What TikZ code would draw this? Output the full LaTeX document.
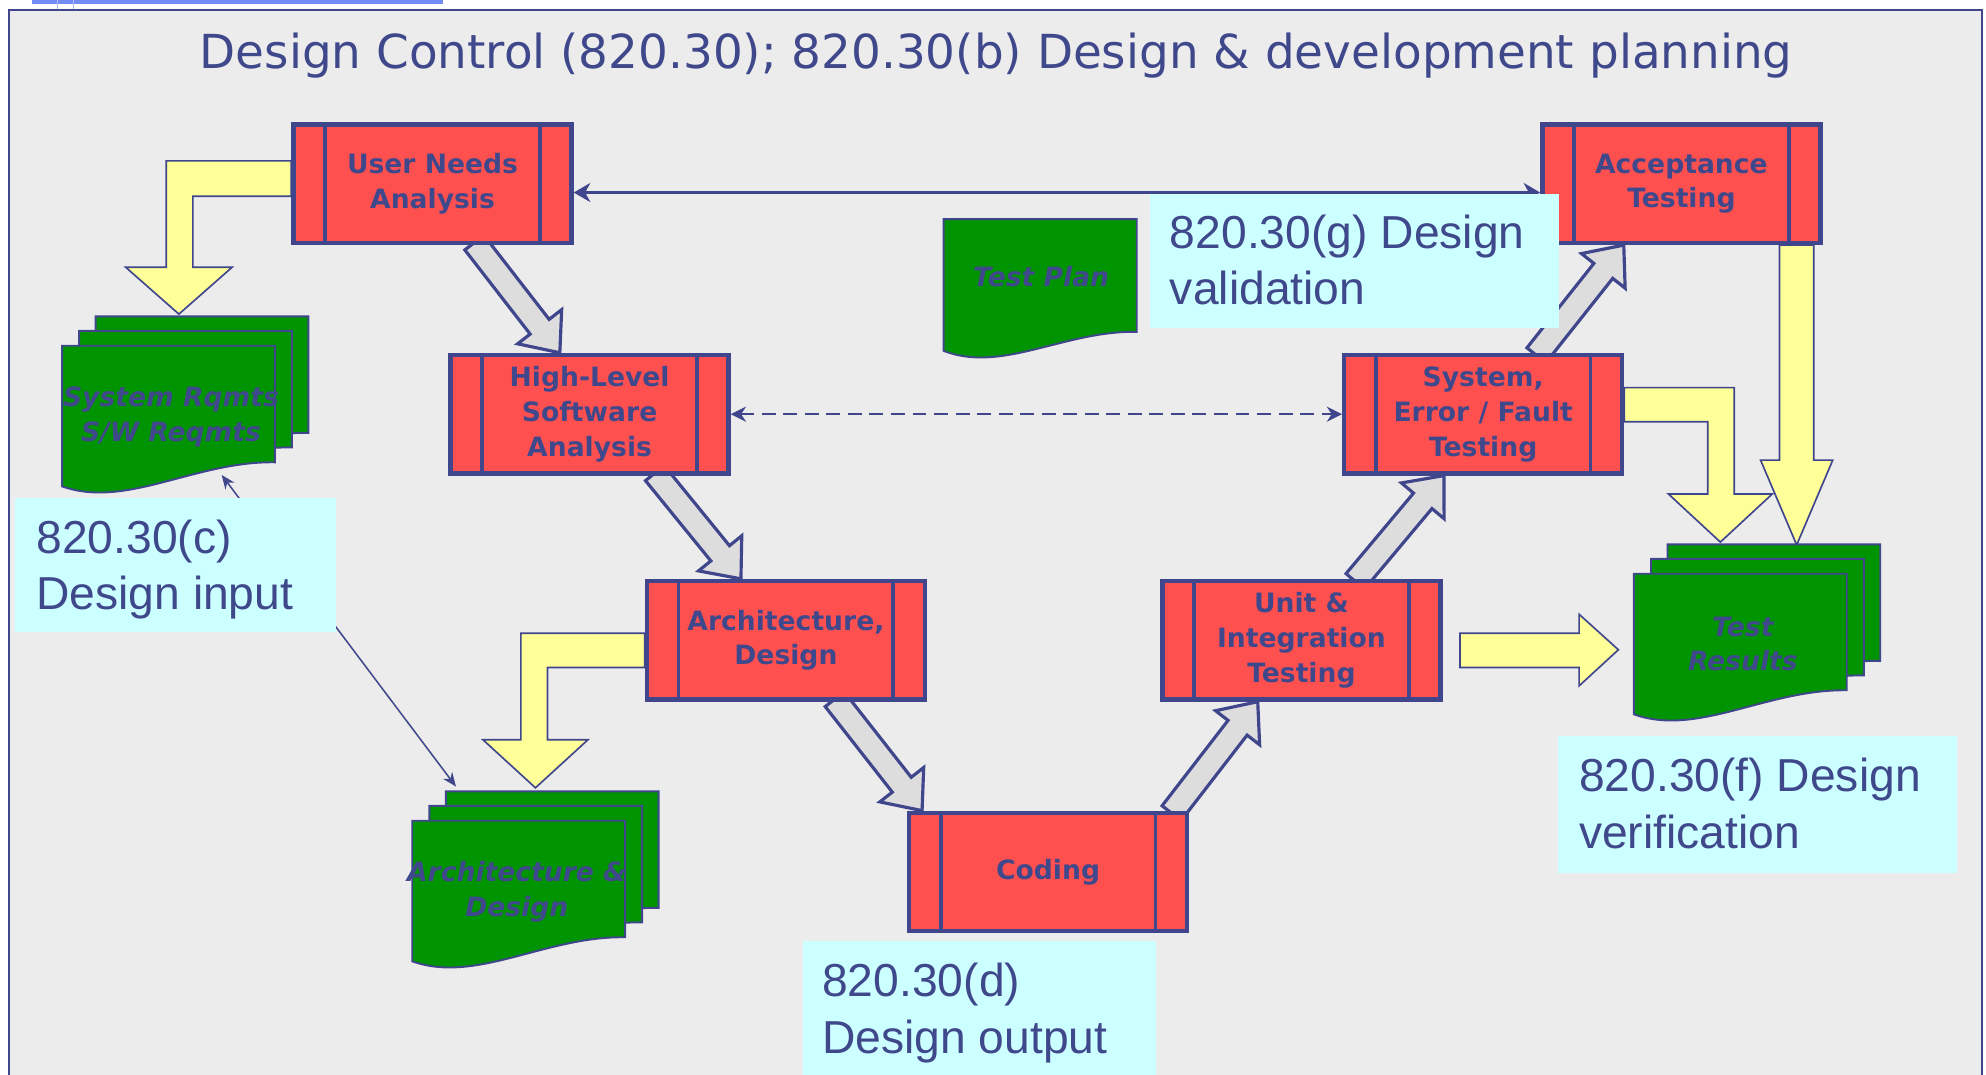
\documentclass[tikz,border=0pt]{standalone}
\usepackage{fontspec}
\setmainfont{DejaVu Sans}
\newfontfamily\helv{Liberation Sans}
\usepackage{tikz}
\usetikzlibrary{arrows.meta,calc}

\definecolor{frameblue}{RGB}{64,70,140}
\definecolor{txtblue}{RGB}{64,72,140}
\definecolor{boxred}{RGB}{255,80,80}
\definecolor{docgreen}{RGB}{0,148,0}
\definecolor{yelfill}{RGB}{255,255,153}
\definecolor{arrgray}{RGB}{221,221,221}
\definecolor{infocyan}{RGB}{204,255,255}
\definecolor{panelgray}{RGB}{236,236,236}
\definecolor{barblue}{RGB}{115,140,245}

\pgfdeclarelayer{back}
\pgfdeclarelayer{front}
\pgfsetlayers{back,main,front}

% x, top, width, left height, right height
\newcommand{\docpage}[5]{%
  \draw[docpg] (#1,{-(#2)}) -- ({#1+#3},{-(#2)}) -- ({#1+#3},{-(#2+#5)})
    .. controls ({#1+0.625*#3},{-(#2+#5-1)}) and ({#1+0.3*#3},{-(#2+#4+18)}) .. (#1,{-(#2+#4)}) -- cycle;}
\newcommand{\docstack}[2]{%
  \docpage{#1+26.5}{#2-23.25}{168}{111}{92}
  \docpage{#1+13.5}{#2-11.75}{168}{111}{92}
  \docpage{#1}{#2}{168}{111}{92}}
\newcommand{\fatarrow}[2]{%
  \coordinate (fa-s) at #1;
  \coordinate (fa-t) at #2;
  \coordinate (fa-b) at ($(fa-t)!26pt!(fa-s)$);
  \draw[grayarrow] ($(fa-s)!9.5pt!90:(fa-t)$) -- ($(fa-b)!9.5pt!90:(fa-t)$) -- ($(fa-b)!22pt!90:(fa-t)$)
    -- (fa-t) -- ($(fa-b)!22pt!-90:(fa-t)$) -- ($(fa-b)!9.5pt!-90:(fa-t)$) -- ($(fa-s)!9.5pt!-90:(fa-t)$) -- cycle;}

\begin{document}
\begin{tikzpicture}[x=1pt, y=1pt,
    phase/.style={rectangle, draw=frameblue, line width=3.5pt, fill=boxred, minimum width=219.5pt, minimum height=93.5pt, inner sep=0pt, align=center, text=txtblue, font=\bfseries\fontsize{21}{27.5}\selectfont},
    phasebar/.style={draw=frameblue, line width=3pt},
    docpg/.style={draw=frameblue, line width=1.5pt, fill=docgreen},
    doctext/.style={text=txtblue, align=center, inner sep=0pt, font=\bfseries\itshape\fontsize{21}{27.5}\selectfont},
    grayarrow/.style={draw=frameblue, line width=2.5pt, fill=arrgray},
    yellowarrow/.style={draw=frameblue, line width=1.3pt, fill=yelfill},
    infobox/.style={fill=infocyan, inner sep=0pt, anchor=north west},
    infotext/.style={anchor=north west, inner sep=0pt, align=left, text=txtblue, font=\helv\fontsize{36.5}{44.5}\selectfont},
    dasharrow/.style={{Stealth[length=12pt,width=12pt]}-{Stealth[length=12pt,width=12pt]}, draw=frameblue, line width=1.8pt, dash pattern=on 11pt off 6pt},
    longarrow/.style={{Stealth[length=13pt,width=15pt,inset=4pt]}-{Stealth[length=13pt,width=15pt,inset=4pt]}, draw=frameblue, line width=3pt},
    thinarrow/.style={{Stealth[length=11pt,width=9pt]}-{Stealth[length=11pt,width=9pt]}, draw=frameblue, line width=1.2pt}
]
\useasboundingbox (0,0) rectangle (1568,-848);

\begin{pgfonlayer}{back}
\fill[white] (0,0) rectangle (1568,-848);
\fill[barblue] (25,0) rectangle (350,-3);
\draw[barblue!60, line width=0.6pt] (45,0) -- (45,-8) (58,0) -- (58,-8);
\fill[panelgray] (7,-8) rectangle (1565,-860);
\draw[frameblue, line width=1.5pt] (7,-860) -- (7,-8) -- (1565,-8) -- (1565,-860);
\draw[frameblue, line width=2pt] (7,-8) -- (1565,-8);
\end{pgfonlayer}

\node[anchor=base, inner sep=0pt, text=txtblue, font=\fontsize{37}{44}\selectfont] (title) at (786.5,-54)
  {Design Control (820.30); 820.30(b) Design \& development planning};

\node[phase] (una) at (341.5,-145) {User Needs\\Analysis};
\node[phase] (hls) at (465.5,-327) {High-Level\\Software\\Analysis};
\node[phase] (arch) at (620.5,-505.5) {Architecture,\\Design};
\node[phase] (code) at (827.5,-688.5) {Coding};
\node[phase] (uit) at (1027.5,-505.5) {Unit \&\\Integration\\Testing};
\node[phase] (sys) at (1171,-327) {System,\\Error / Fault\\Testing};
\node[phase] (acc) at (1327.5,-145) {Acceptance\\Testing};
\foreach \n in {una,hls,arch,code,uit,sys,acc} {
  \draw[phasebar] ($(\n.north west)+(26.75,0)$) -- ($(\n.south west)+(26.75,0)$);
  \draw[phasebar] ($(\n.north east)+(-26.75,0)$) -- ($(\n.south east)+(-26.75,0)$);
}

\docstack{49}{273}
\docstack{325.5}{648}
\docstack{1290}{453}
\docpage{745}{173}{152.5}{104}{89}
\node[doctext] (sysdoc) at (135,-329) {System Rqmts\\S/W Reqmts};
\node[doctext] (archdoc) at (408,-704) {Architecture \&\\Design};
\node[doctext] (resdoc) at (1376,-508.5) {Test\\Results};
\node[doctext] (plandoc) at (822,-218) {Test Plan};
\coordinate (sysdoc-pt) at (175,-375);
\coordinate (archdoc-pt) at (360,-621);

\begin{pgfonlayer}{back}
\fatarrow{($(una.south)+(33,2)$)}{($(hls.north)+(-23.5,0)$)}
\fatarrow{($(hls.south)+(51.5,2)$)}{($(arch.north)+(-35.5,0)$)}
\fatarrow{($(arch.south)+(38.5,2)$)}{($(code.north)+(-99.5,0)$)}
\fatarrow{($(code.north)+(97.5,-2)$)}{($(uit.south)+(-34.5,0)$)}
\fatarrow{($(uit.north)+(42.5,-2)$)}{($(sys.south)+(-31,0)$)}
\fatarrow{($(sys.north)+(42,-2)$)}{($(acc.south)+(-45.5,0)$)}

\draw[yellowarrow] ($(una.west)+(0,18)$) -- ++(-98.75,0) -- ++(0,-84) -- ++(-32,0) -- ++(42,-37)
  -- ++(42,37) -- ++(-31,0) -- ++(0,56) -- ++(77.75,0) -- cycle;
\draw[yellowarrow] ($(arch.west)+(0,5.5)$) -- ++(-97.75,0) -- ++(0,-84) -- ++(-30,0) -- ++(41.5,-38)
  -- ++(41.5,38) -- ++(-32,0) -- ++(0,57) -- ++(76.75,0) -- cycle;
\draw[yellowarrow] ($(acc.south)+(77.5,0)$) -- ++(0,-169.75) -- ++(-15,0) -- ++(28.5,-67)
  -- ++(28.5,67) -- ++(-15,0) -- ++(0,169.75) -- cycle;
\draw[yellowarrow] ($(sys.east)+(0,21)$) -- ++(86.75,0) -- ++(0,-84) -- ++(30,0) -- ++(-41,-38)
  -- ++(-41,38) -- ++(31,0) -- ++(0,57) -- ++(-65.75,0) -- cycle;
\draw[yellowarrow] ($(uit.east)+(13.75,5.5)$) -- ++(94,0) -- ++(0,15) -- ++(31,-28)
  -- ++(-31,-28.5) -- ++(0,14.5) -- ++(-94,0) -- cycle;
\end{pgfonlayer}

\draw[dasharrow] (hls.east) -- (sys.west);
\draw[longarrow] ($(acc.west)+(0,-7)$) -- ($(una.east)+(0,-7)$);
\draw[thinarrow] (sysdoc-pt) -- (archdoc-pt);

\begin{pgfonlayer}{front}
\node[infobox, minimum width=253pt, minimum height=106pt] (lblc) at (12,-393) {};
\node[infotext] (lblc-t) at (28.5,-410.4) {820.30(c)\\Design input};
\node[infobox, minimum width=279pt, minimum height=120pt] (lbld) at (633.5,-743) {};
\node[infotext] (lbld-t) at (649,-760.4) {820.30(d)\\Design output};
\node[infobox, minimum width=314.5pt, minimum height=108pt] (lblf) at (1230,-581) {};
\node[infotext] (lblf-t) at (1246.5,-598.4) {820.30(f) Design\\verification};
\node[infobox, minimum width=322.5pt, minimum height=106.4pt] (lblg) at (908,-152.6) {};
\node[infotext] (lblg-t) at (923.5,-169.4) {820.30(g) Design\\validation};
\end{pgfonlayer}
\end{tikzpicture}
\end{document}
